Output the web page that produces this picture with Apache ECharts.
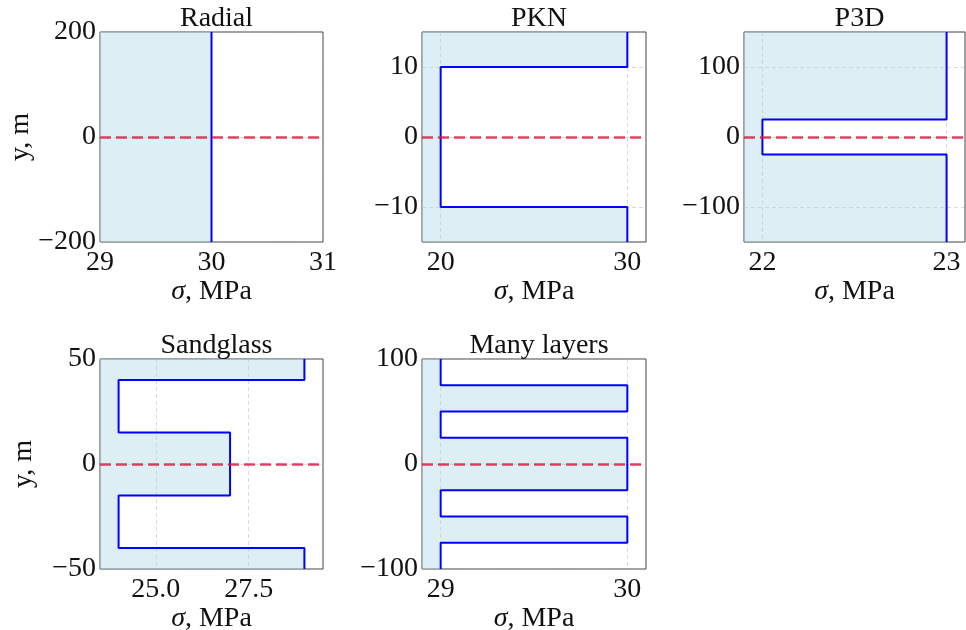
<!DOCTYPE html>
<html>
<head>
<meta charset="utf-8">
<script src="https://cdn.jsdelivr.net/npm/echarts@6/dist/echarts.min.js"></script>
<style>html,body{margin:0;padding:0;background:#fff;}#c{width:966px;height:630px;}</style>
</head>
<body>
<div id="c"></div>
<script>
// ---- Data ----
const titles = ['Radial', 'PKN', 'P3D', 'Sandglass', 'Many layers'];

const radialY = [200, -200];
const radialSigma = [30, 30];
const pknY = [15, 10, 10, -10, -10, -15];
const pknSigma = [30, 30, 20, 20, 30, 30];
const p3dY = [150, 25, 25, -25, -25, -150];
const p3dSigma = [23, 23, 22, 22, 23, 23];
const sandY = [50, 40, 40, 15, 15, -15, -15, -40, -40, -50];
const sandSigma = [29, 29, 24, 24, 27, 27, 24, 24, 29, 29];
const manyY = [100, 75, 75, 50, 50, 25, 25, -25, -25, -50, -50, -75, -75, -100];
const manySigma = [29, 29, 30, 30, 29, 29, 30, 30, 29, 29, 30, 30, 29, 29];

// axis limits
const radialXLim = [29, 31], radialYLim = [-200, 200];
const pknXLim = [19, 31], pknYLim = [-15, 15];
const p3dXLim = [21.9, 23.1], p3dYLim = [-150, 150];
const sandXLim = [23.5, 29.5], sandYLim = [-50, 50];
const manyXLim = [28.9, 30.1], manyYLim = [-100, 100];

// tick values
const radialXTicks = [29, 30, 31], radialYTicks = [-200, 0, 200];
const pknXTicks = [20, 30], pknYTicks = [-10, 0, 10];
const p3dXTicks = [22, 23], p3dYTicks = [-100, 0, 100];
const sandXTicks = [25.0, 27.5], sandYTicks = [-50, 0, 50];
const manyXTicks = [29, 30], manyYTicks = [-100, 0, 100];
const sandXDecimals = 1;

// ---- Layout / style ----
const FONT = 'Liberation Serif';
const FS = 28;
const TXT = '#111';
const grids = [
  {left: 100, top: 32, width: 223, height: 210},
  {left: 422, top: 32, width: 224, height: 210},
  {left: 744, top: 32, width: 221, height: 210},
  {left: 100, top: 359, width: 223, height: 210},
  {left: 422, top: 359, width: 224, height: 210}
];
const panels = [
  {ys: radialY, xs: radialSigma, xl: radialXLim, yl: radialYLim, xt: radialXTicks, yt: radialYTicks, dec: 0, ylab: true},
  {ys: pknY, xs: pknSigma, xl: pknXLim, yl: pknYLim, xt: pknXTicks, yt: pknYTicks, dec: 0, ylab: false},
  {ys: p3dY, xs: p3dSigma, xl: p3dXLim, yl: p3dYLim, xt: p3dXTicks, yt: p3dYTicks, dec: 0, ylab: false},
  {ys: sandY, xs: sandSigma, xl: sandXLim, yl: sandYLim, xt: sandXTicks, yt: sandYTicks, dec: sandXDecimals, ylab: true},
  {ys: manyY, xs: manySigma, xl: manyXLim, yl: manyYLim, xt: manyXTicks, yt: manyYTicks, dec: 0, ylab: false}
];

function fmt(dec) {
  return function (v) {
    const s = dec ? Number(v).toFixed(dec) : String(Math.round(v));
    return s.replace('-', '\u2212');
  };
}

const option = {
  animation: false,
  backgroundColor: '#fff',
  title: [],
  grid: [],
  xAxis: [],
  yAxis: [],
  series: []
};

panels.forEach(function (p, i) {
  const g = grids[i];
  option.grid.push(Object.assign({
    show: true, borderColor: '#444', borderWidth: 1, backgroundColor: 'transparent',
    containLabel: false, outerBoundsMode: 'none'
  }, g));
  option.title.push({
    text: titles[i],
    left: g.left + g.width / 2,
    top: g.top - 32,
    textAlign: 'center',
    textStyle: {fontFamily: FONT, fontSize: FS, fontWeight: 'normal', color: TXT}
  });
  option.xAxis.push({
    type: 'value', gridIndex: i, min: p.xl[0], max: p.xl[1],
    axisLine: {show: false},
    axisTick: {show: false, customValues: p.xt},
    axisLabel: {customValues: p.xt, formatter: fmt(p.dec), fontFamily: FONT, fontSize: FS, color: TXT, margin: 7, showMinLabel: true, showMaxLabel: true, hideOverlap: false},
    splitLine: {show: true, lineStyle: {color: 'rgba(170,170,170,0.55)', type: [4, 3], width: 0.8}},
    name: '{s|\u03c3}, MPa',
    nameLocation: 'middle',
    nameGap: 36,
    nameTextStyle: {fontFamily: FONT, fontSize: FS, color: TXT,
      rich: {s: {fontFamily: FONT, fontSize: FS, fontStyle: 'italic', color: TXT}}}
  });
  option.yAxis.push({
    type: 'value', gridIndex: i, min: p.yl[0], max: p.yl[1],
    axisLine: {show: false},
    axisTick: {show: false, customValues: p.yt},
    axisLabel: {customValues: p.yt, formatter: fmt(0), fontFamily: FONT, fontSize: FS, color: TXT, margin: 4, showMinLabel: true, showMaxLabel: true, hideOverlap: false},
    splitLine: {show: true, lineStyle: {color: 'rgba(170,170,170,0.55)', type: [4, 3], width: 0.8}},
    name: p.ylab ? 'y, m' : '',
    nameLocation: 'middle',
    nameGap: 62,
    nameTextStyle: {fontFamily: FONT, fontSize: FS, color: TXT}
  });
  const pts = p.xs.map(function (x, k) { return [x, p.ys[k]]; });
  const xmin = p.xl[0];
  // fill between left axis limit and profile
  option.series.push({
    type: 'custom', xAxisIndex: i, yAxisIndex: i, silent: true, z: 1,
    clip: true,
    data: pts,
    encode: {x: 0, y: 1},
    renderItem: function (params, api) {
      if (params.dataIndex !== 0) return null;
      const poly = [api.coord([xmin, pts[0][1]])];
      pts.forEach(function (q) { poly.push(api.coord(q)); });
      poly.push(api.coord([xmin, pts[pts.length - 1][1]]));
      return {type: 'polygon', shape: {points: poly}, style: {fill: 'rgba(173,216,230,0.42)', stroke: null}};
    }
  });
  // profile line + zero line
  option.series.push({
    type: 'line', xAxisIndex: i, yAxisIndex: i, data: pts, z: 3,
    showSymbol: false, symbol: 'none', silent: true,
    lineStyle: {color: '#0000ff', width: 2},
    markLine: {
      silent: true, symbol: ['none', 'none'], label: {show: false}, z: 5,
      lineStyle: {color: 'rgba(220,20,60,0.8)', type: [11, 5], width: 2.6},
      data: [{yAxis: 0}]
    }
  });
});

const chart = echarts.init(document.getElementById('c'), null, {renderer: 'canvas'});
chart.setOption(option);
</script>
</body>
</html>
